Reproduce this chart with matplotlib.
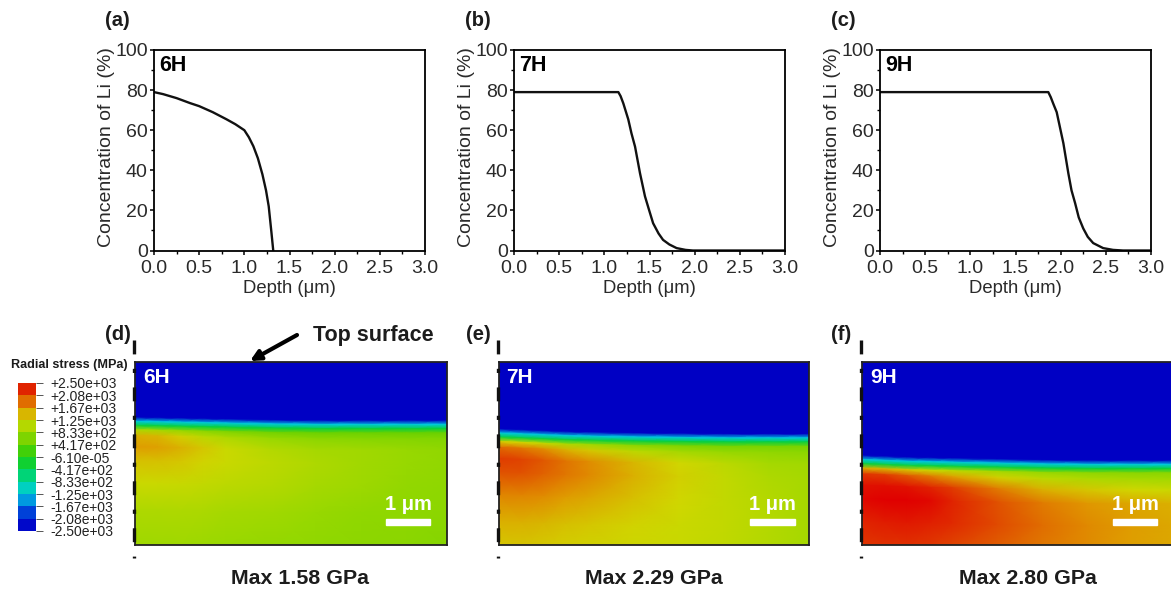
import numpy as np
import matplotlib.pyplot as plt
from matplotlib.colors import LinearSegmentedColormap, Normalize, BoundaryNorm, ListedColormap
from matplotlib.lines import Line2D

plt.rcParams['font.family'] = ['Liberation Sans', 'DejaVu Sans']
plt.rcParams['lines.scale_dashes'] = False

W, H = 1171, 590
INK = '#1c1c1c'

# Li concentration profiles
depth_a = [0, 0.1, 0.25, 0.4, 0.5, 0.65, 0.8, 0.9, 1.0, 1.05, 1.1, 1.15, 1.2, 1.24, 1.27, 1.3, 1.32]
conc_a = [79, 78, 76, 73.5, 72, 69, 65.5, 63, 60, 56.5, 52, 46, 38, 30, 22, 9, 0]
depth_b = [0, 0.5, 1.0, 1.155, 1.18, 1.21, 1.265, 1.3, 1.34, 1.395, 1.45, 1.5, 1.54, 1.6, 1.65, 1.72, 1.8, 1.9, 1.98, 3.0]
conc_b = [79, 79, 79, 79, 77, 73.4, 65.4, 58.5, 51.8, 38.5, 27, 19.5, 13.6, 8.5, 5.3, 3, 1.2, 0.3, 0, 0]
depth_c = [0, 0.5, 1.0, 1.5, 1.863, 1.89, 1.92, 1.956, 2.03, 2.085, 2.12, 2.16, 2.2, 2.25, 2.3, 2.36, 2.47, 2.58, 2.69, 3.0]
conc_c = [79, 79, 79, 79, 79, 76.5, 73, 69, 53.5, 38.5, 30, 23.6, 16.5, 11, 6.8, 3.7, 1.2, 0.3, 0, 0]

# stress map: columns along the width, rows measured down from the top of the band
x_um = [0, 0.5, 1, 1.5, 2, 3, 4, 5, 6, 6.9]
band_rows = [-2.3, -0.06, 0.03, 0.12]
band_vals = [-2500, -2500, -1250, -300]
bulk_rows = [0.22, 0.35, 0.6, 0.9, 1.4, 2.0, 2.8]

surface_d = [1.29, 1.30, 1.31, 1.32, 1.33, 1.35, 1.36, 1.36, 1.36, 1.36]
surface_e = [1.55, 1.57, 1.59, 1.61, 1.62, 1.64, 1.65, 1.66, 1.66, 1.66]
surface_f = [2.14, 2.16, 2.18, 2.19, 2.20, 2.22, 2.24, 2.25, 2.25, 2.25]

stress_d = [[1000, 950, 850, 750, 650, 550, 500, 500, 480, 480],
            [1500, 1450, 1300, 1100, 1000, 850, 750, 720, 700, 680],
            [1620, 1600, 1500, 1350, 1200, 1050, 950, 900, 850, 800],
            [1400, 1400, 1350, 1280, 1200, 1100, 1000, 900, 850, 800],
            [1200, 1200, 1180, 1150, 1100, 1050, 950, 880, 820, 780],
            [1000, 1000, 1000, 980, 950, 900, 850, 800, 780, 750],
            [880, 880, 880, 860, 850, 820, 780, 750, 730, 700]]
stress_e = [[1300, 1250, 1150, 1000, 900, 750, 650, 600, 600, 600],
            [1900, 1850, 1700, 1500, 1350, 1100, 950, 850, 800, 750],
            [2150, 2120, 2000, 1850, 1700, 1450, 1250, 1100, 950, 900],
            [2050, 2050, 1950, 1820, 1720, 1500, 1300, 1150, 1000, 950],
            [1750, 1750, 1700, 1620, 1550, 1400, 1250, 1150, 1050, 950],
            [1500, 1500, 1450, 1400, 1350, 1280, 1200, 1150, 1050, 950],
            [1300, 1300, 1280, 1250, 1220, 1200, 1180, 1120, 1030, 950]]
stress_f = [[1500, 1450, 1350, 1200, 1100, 950, 850, 800, 750, 750],
            [2200, 2150, 2000, 1800, 1600, 1300, 1100, 1000, 950, 900],
            [2400, 2420, 2400, 2300, 2150, 1800, 1500, 1350, 1250, 1200],
            [2450, 2500, 2500, 2450, 2300, 2050, 1800, 1650, 1550, 1500],
            [2300, 2330, 2350, 2320, 2250, 2080, 1880, 1720, 1620, 1560],
            [2180, 2200, 2200, 2160, 2080, 1950, 1800, 1700, 1600, 1560],
            [2180, 2200, 2200, 2160, 2080, 1950, 1800, 1700, 1600, 1560]]

legend_labels = ['+2.50e+03', '+2.08e+03', '+1.67e+03', '+1.25e+03', '+8.33e+02', '+4.17e+02', '-6.10e-05',
                 '-4.17e+02', '-8.33e+02', '-1.25e+03', '-1.67e+03', '-2.08e+03', '-2.50e+03']
max_labels = ['Max 1.58 GPa', 'Max 2.29 GPa', 'Max 2.80 GPa']

stress_cmap = LinearSegmentedColormap.from_list('stress', [
    (0.0, '#0000c4'), (0.08, '#0010d0'), (0.17, '#0070e0'), (0.25, '#00c8e0'), (0.33, '#00d8a0'),
    (0.42, '#00d050'), (0.5, '#20d010'), (0.58, '#60d000'), (0.67, '#98d800'), (0.75, '#d0d800'),
    (0.83, '#e09800'), (0.92, '#e04800'), (1.0, '#e00000')])


def px_axes(fig, x0, y0, x1, y1):
    return fig.add_axes([x0 / W, 1 - y1 / H, (x1 - x0) / W, (y1 - y0) / H])


def ftext(fig, x, y, s, **kw):
    kw.setdefault('va', 'center')
    kw.setdefault('color', INK)
    fig.text(x / W, 1 - y / H, s, **kw)


fig = plt.figure(figsize=(W / 100, H / 100), dpi=100)

# top row
profiles = [(154, depth_a, conc_a, '6H'), (514, depth_b, conc_b, '7H'), (880, depth_c, conc_c, '9H')]
for x0, depth, conc, name in profiles:
    ax = px_axes(fig, x0, 50, x0 + 271, 250.5)
    ax.plot(depth, conc, color='#111111', lw=1.7)
    ax.set_xlim(0, 3)
    ax.set_ylim(0, 100)
    ax.set_xticks(np.arange(0, 3.1, 0.5))
    ax.set_xticks(np.arange(0.25, 3, 0.5), minor=True)
    ax.set_yticks(np.arange(0, 101, 20))
    ax.set_yticks(np.arange(10, 100, 20), minor=True)
    ax.tick_params(which='major', length=3, width=1.1, labelsize=14, pad=1.5, labelcolor='#2a2a2a')
    ax.tick_params(axis='x', which='major', pad=3.5)
    ax.tick_params(which='minor', length=2, width=1)
    for s in ax.spines.values():
        s.set_linewidth(1.3)
    ax.set_xlabel('Depth (\u03bcm)', fontsize=13.3, labelpad=2.5, color='#2a2a2a')
    ax.set_ylabel('Concentration of Li (%)', fontsize=14, labelpad=0, color='#2a2a2a', y=0.515)
    ax.text(0.02, 0.925, name, transform=ax.transAxes, fontsize=15.5, fontweight='bold', va='center')

for x, s in [(105, '(a)'), (465, '(b)'), (831, '(c)')]:
    ftext(fig, x, 20, s, fontsize=14.5, fontweight='bold')

# stress maps
maps = [(135, 447, surface_d, stress_d, '6H', 386, 430, 300),
        (498.5, 809, surface_e, stress_e, '7H', 750, 795, 654),
        (862, 1173, surface_f, stress_f, '9H', 1113, 1157, 1028)]
rows = np.array(band_rows + bulk_rows)
xs = np.array(x_um)
for i, (x0, x1, surf, stress, name, bar0, bar1, mid) in enumerate(maps):
    ax = px_axes(fig, x0, 362, x1, 545)
    grid = np.vstack([np.tile(np.array(band_vals)[:, None], (1, len(xs))), np.array(stress)])
    X, Y = np.meshgrid(xs, rows)
    Y = Y + np.array(surf)
    ax.pcolormesh(X, Y, grid, shading='gouraud', cmap=stress_cmap, norm=Normalize(-2500, 2500))
    ax.set_xlim(0, 6.9)
    ax.set_ylim(4.07, 0)
    ax.set_xticks([])
    ax.set_yticks([])
    for s in ax.spines.values():
        s.set_linewidth(1.3)
        s.set_color('#222222')
    ax.text(0.025, 0.915, name, transform=ax.transAxes, color='white', fontsize=15, fontweight='bold', va='center')
    # scale bar, 1 um
    fig.patches.append(plt.Rectangle((bar0 / W, 1 - 525 / H), (bar1 - bar0) / W, 6 / H, color='white',
                                     transform=fig.transFigure, zorder=5))
    ftext(fig, (bar0 + bar1) / 2, 505, '1 \u03bcm', color='white', fontsize=14.5, fontweight='bold', ha='center', zorder=6)
    # dashed symmetry axis
    fig.add_artist(Line2D([(x0 - 1) / W, (x0 - 1) / W], [1 - 340 / H, 1 - 558 / H], color='#111111', lw=2.4,
                          ls=(0, (10, 10.4, 3, 10.4)), dash_capstyle='butt', zorder=10))
    ftext(fig, mid, 578, max_labels[i], fontsize=15.4, fontweight='bold', ha='center')

for x, s in [(105, '(d)'), (466, '(e)'), (831, '(f)')]:
    ftext(fig, x, 335, s, fontsize=14.5, fontweight='bold')

ftext(fig, 313, 335, 'Top surface', fontsize=15.5, fontweight='bold')
fig.add_artist(plt.Annotation('', xy=(250 / W, 1 - 361 / H), xytext=(297 / W, 1 - 335 / H),
                              xycoords='figure fraction', textcoords='figure fraction',
                              arrowprops=dict(arrowstyle='-|>', color='black', lw=3, mutation_scale=15,
                                              shrinkA=0, shrinkB=0)))

# legend of the contour levels
levels = np.array([float(s) for s in legend_labels])[::-1]
centers = (levels[:-1] + levels[1:]) / 2
cax = px_axes(fig, 18, 383, 36, 531)
cax.pcolormesh([0, 1], levels, centers[:, None], cmap=ListedColormap(stress_cmap(Normalize(-2500, 2500)(centers))),
               norm=BoundaryNorm(levels, len(centers)))
cax.set_xticks([])
cax.yaxis.tick_right()
cax.set_yticks(levels)
cax.set_yticklabels(legend_labels[::-1], fontsize=10, color='#222222')
cax.tick_params(axis='y', length=5, width=0.7, color='#555555', pad=5)
for s in cax.spines.values():
    s.set_visible(False)
ftext(fig, 11, 365, 'Radial stress (MPa)', fontsize=9.1, fontweight='bold')

fig.savefig('out.png', dpi=100)
